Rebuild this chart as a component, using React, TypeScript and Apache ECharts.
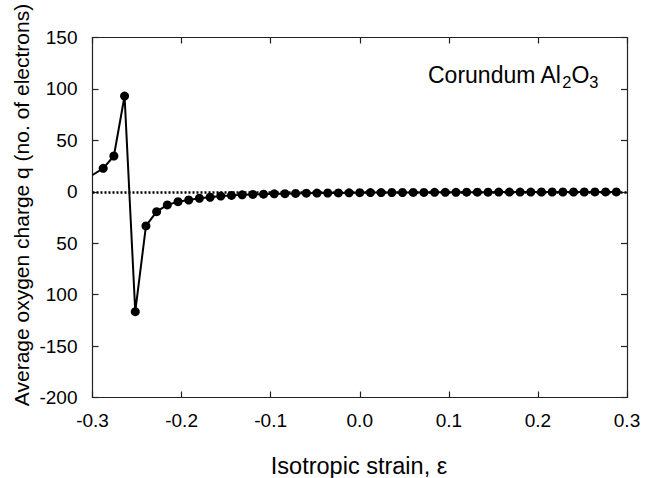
import React, { useEffect, useRef } from "react";
import * as echarts from "echarts";

const strain = [
  -0.3, -0.288, -0.276, -0.264, -0.252, -0.24, -0.228, -0.216, -0.204, -0.192,
  -0.18, -0.168, -0.156, -0.144, -0.132, -0.12, -0.108, -0.096, -0.084, -0.072,
  -0.06, -0.048, -0.036, -0.024, -0.012, 0.0, 0.012, 0.024, 0.036, 0.048,
  0.06, 0.072, 0.084, 0.096, 0.108, 0.12, 0.132, 0.144, 0.156, 0.168,
  0.18, 0.192, 0.204, 0.216, 0.228, 0.24, 0.252, 0.264, 0.276, 0.288,
];
const charge = [
  16.3, 22.8, 34.8, 93.1, -116.6, -33.2, -19.3, -12.8, -9.6, -8.0,
  -6.3, -5.3, -4.2, -3.5, -3.0, -2.6, -2.3, -2.0, -1.8, -1.6,
  -1.4, -1.3, -1.2, -1.1, -1.0, -0.9, -0.8, -0.8, -0.7, -0.7,
  -0.6, -0.6, -0.5, -0.5, -0.5, -0.4, -0.4, -0.4, -0.3, -0.3,
  -0.3, -0.3, -0.2, -0.2, -0.2, -0.2, -0.2, -0.1, -0.1, -0.1,
];
const xTickValues = [-0.3, -0.2, -0.1, 0.0, 0.1, 0.2, 0.3];
const xTickLabels = ["-0.3", "-0.2", "-0.1", "0.0", "0.1", "0.2", "0.3"];
const yTickValues = [-200, -150, -100, -50, 0, 50, 100, 150];
const yTickLabels = ["-200", "-150", "100", "50", "0", "50", "100", "150"];

const xTitle = "Isotropic strain, ε";
const yTitle = "Average oxygen charge q (no. of electrons)";

const FONT = "Liberation Sans, Arial, Helvetica, sans-serif";
const AXIS_COLOR = "#222";

export default function App() {
  const ref = useRef<HTMLDivElement>(null);
  useEffect(() => {
    if (!ref.current) return;
    const chart = echarts.init(ref.current, undefined, { renderer: "svg" });
    const xFmt = (v: number) => {
      const i = xTickValues.findIndex((t) => Math.abs(t - v) < 1e-6);
      return i >= 0 ? xTickLabels[i] : "";
    };
    const yFmt = (v: number) => {
      const i = yTickValues.findIndex((t) => Math.abs(t - v) < 1e-6);
      return i >= 0 ? yTickLabels[i] : "";
    };
    const axisLine = { show: true, onZero: false, lineStyle: { color: AXIS_COLOR, width: 1.2 } };
    const axisTick = { show: true, inside: true, length: 6, lineStyle: { color: AXIS_COLOR, width: 1.2 } };
    const data = strain.map((x, i) =>
      i === 0 ? { value: [x, charge[i]], symbol: "none" } : { value: [x, charge[i]] }
    );
    chart.setOption({
      animation: false,
      backgroundColor: "#fff",
      grid: { left: 92.5, right: 18, top: 37.5, bottom: 80.5, containLabel: false },
      xAxis: [
        {
          type: "value",
          min: -0.3,
          max: 0.3,
          interval: 0.1,
          axisLine,
          axisTick,
          splitLine: { show: false },
          axisLabel: { formatter: xFmt, fontFamily: FONT, fontSize: 19, color: "#000", margin: 13 },
        },
        {
          type: "value",
          position: "top",
          min: -0.3,
          max: 0.3,
          interval: 0.1,
          axisLine,
          axisTick,
          splitLine: { show: false },
          axisLabel: { show: false },
        },
      ],
      yAxis: [
        {
          type: "value",
          min: -200,
          max: 150,
          interval: 50,
          axisLine,
          axisTick,
          splitLine: { show: false },
          axisLabel: { formatter: yFmt, fontFamily: FONT, fontSize: 19, color: "#000", margin: 15 },
        },
        {
          type: "value",
          position: "right",
          min: -200,
          max: 150,
          interval: 50,
          axisLine,
          axisTick,
          splitLine: { show: false },
          axisLabel: { show: false },
        },
      ],
      series: [
        {
          type: "line",
          data,
          xAxisIndex: 0,
          yAxisIndex: 0,
          symbol: "circle",
          symbolSize: 9,
          showSymbol: true,
          clip: true,
          lineStyle: { color: "#000", width: 2 },
          itemStyle: { color: "#000" },
          markLine: {
            silent: true,
            symbol: ["none", "none"],
            label: { show: false },
            lineStyle: { color: "#000", width: 2.5, type: [2, 2] },
            data: [{ yAxis: 0 }],
            z: 1,
          },
          z: 3,
        },
      ],
      graphic: [
        {
          type: "text",
          x: 359,
          y: 466,
          style: {
            text: xTitle,
            fontFamily: FONT,
            fontSize: 23.5,
            fill: "#000",
            align: "center",
            verticalAlign: "middle",
          },
        },
        {
          type: "text",
          x: 21,
          y: 205,
          rotation: Math.PI / 2,
          style: {
            text: yTitle,
            fontFamily: FONT,
            fontSize: 21,
            fill: "#000",
            align: "center",
            verticalAlign: "middle",
          },
        },
        {
          type: "text",
          x: 428,
          y: 88,
          style: {
            text: "{a|Corundum Al}{s|2}{a|O}{s|3}",
            fill: "#000",
            align: "left",
            verticalAlign: "bottom",
            rich: {
              a: { fontFamily: FONT, fontSize: 23, fill: "#000", lineHeight: 26 },
              s: { fontFamily: FONT, fontSize: 16.5, fill: "#000", padding: [13, 0, 0, 0], lineHeight: 26 },
            },
          },
        },
      ],
    });
    return () => chart.dispose();
  }, []);
  return (
    <div
      ref={ref}
      style={{ position: "fixed", left: 0, top: 0, width: 645, height: 478 }}
    />
  );
}
